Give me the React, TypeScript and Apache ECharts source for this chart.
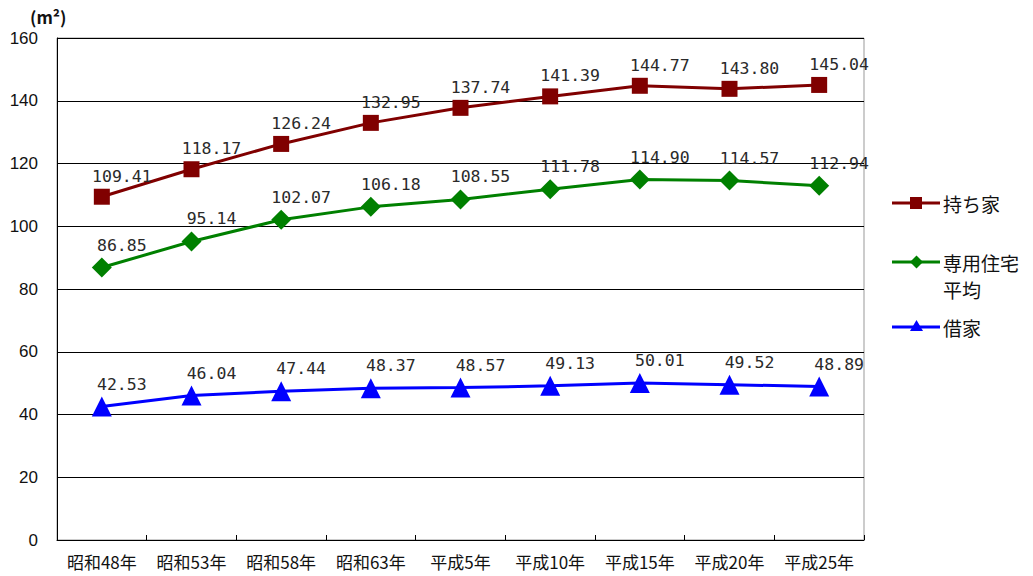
import React, { useEffect, useRef } from "react";
import * as echarts from "echarts";

const categories = ["昭和48年", "昭和53年", "昭和58年", "昭和63年", "平成5年", "平成10年", "平成15年", "平成20年", "平成25年"];
const ownedHomes = [109.41, 118.17, 126.24, 132.95, 137.74, 141.39, 144.77, 143.8, 145.04];
const averageDwelling = [86.85, 95.14, 102.07, 106.18, 108.55, 111.78, 114.9, 114.57, 112.94];
const rentedHomes = [42.53, 46.04, 47.44, 48.37, 48.57, 49.13, 50.01, 49.52, 48.89];

const RED = "#800000";
const GREEN = "#008000";
const BLUE = "#0000ff";
const CJK = "'Noto Sans CJK JP', sans-serif";
const MONO = "'DejaVu Sans Mono', monospace";

const labelStyle = {
  show: true,
  position: "top" as const,
  distance: 4,
  offset: [20, 0],
  fontFamily: MONO,
  fontSize: 16.5,
  color: "#2a2a2a",
  formatter: (p: any) => Number(p.value).toFixed(2),
};

function legendItem(y: number, color: string, marker: any, lines: string[]) {
  return [
    { type: "line", shape: { x1: 892, y1: y, x2: 940, y2: y }, style: { stroke: color, lineWidth: 3 } },
    marker,
    ...lines.map((t, i) => ({
      type: "text",
      x: 943,
      y: y + i * 27,
      style: { text: t, fontFamily: CJK, fontSize: 19, fill: "#111", verticalAlign: "middle" },
    })),
  ];
}

export default function App() {
  const ref = useRef<HTMLDivElement>(null);
  useEffect(() => {
    if (!ref.current) return;
    const chart = echarts.init(ref.current, null, { renderer: "svg" });
    chart.setOption({
      animation: false,
      backgroundColor: "#fff",
      grid: { left: 57, right: 169, top: 38, bottom: 36, show: true, borderColor: "#999", borderWidth: 1 },
      xAxis: {
        type: "category",
        data: categories,
        boundaryGap: true,
        axisLine: { lineStyle: { color: "#000", width: 1 } },
        axisTick: { show: true, inside: true, length: 5, lineStyle: { color: "#000" } },
        axisLabel: { fontFamily: CJK, fontSize: 17, color: "#111", margin: 13, interval: 0 },
      },
      yAxis: {
        type: "value",
        min: 0,
        max: 160,
        interval: 20,
        axisLine: { show: true, lineStyle: { color: "#000", width: 1 } },
        axisTick: { show: false },
        splitLine: { lineStyle: { color: "#000", width: 1 } },
        axisLabel: { fontFamily: "'Liberation Sans Narrow', 'Liberation Sans', sans-serif", fontSize: 17, color: "#111", margin: 19 },
      },
      series: [
        {
          name: "持ち家",
          type: "line",
          data: ownedHomes,
          symbol: "rect",
          symbolSize: 16,
          itemStyle: { color: RED },
          lineStyle: { color: RED, width: 3 },
          label: labelStyle,
        },
        {
          name: "専用住宅平均",
          type: "line",
          data: averageDwelling,
          symbol: "diamond",
          symbolSize: 20,
          itemStyle: { color: GREEN },
          lineStyle: { color: GREEN, width: 3 },
          label: labelStyle,
        },
        {
          name: "借家",
          type: "line",
          data: rentedHomes,
          symbol: "triangle",
          symbolSize: 20,
          itemStyle: { color: BLUE },
          lineStyle: { color: BLUE, width: 3 },
          label: labelStyle,
        },
      ],
      graphic: [
        {
          type: "text",
          x: 30,
          y: 8,
          style: { text: "(m²)", fontFamily: CJK, fontSize: 17, fontWeight: "bold", fill: "#111" },
        },
        ...legendItem(203, RED, { type: "rect", shape: { x: 910, y: 197, width: 12, height: 12 }, style: { fill: RED } }, ["持ち家"]),
        ...legendItem(262, GREEN, { type: "polygon", shape: { points: [[916.5, 255.5], [923, 262], [916.5, 268.5], [910, 262]] }, style: { fill: GREEN } }, ["専用住宅", "平均"]),
        ...legendItem(327, BLUE, { type: "polygon", shape: { points: [[916.5, 320], [923, 331], [910, 331]] }, style: { fill: BLUE } }, ["借家"]),
      ],
    });
    return () => chart.dispose();
  }, []);
  return <div ref={ref} style={{ width: 1033, height: 576, position: "absolute", left: 0, top: 0 }} />;
}
